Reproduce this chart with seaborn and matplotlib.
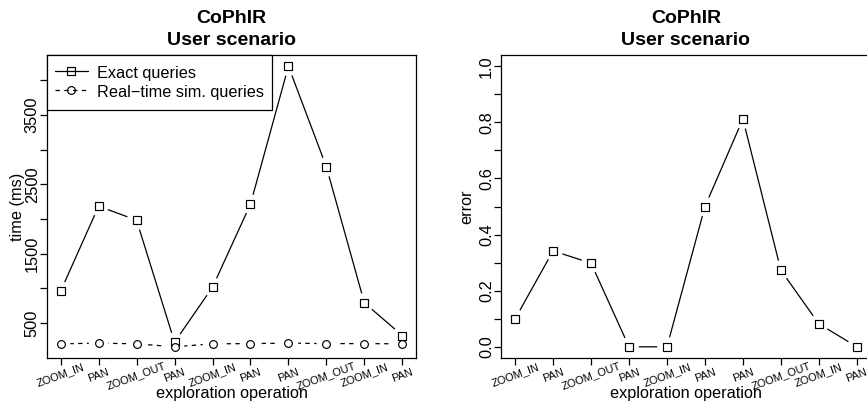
import matplotlib
matplotlib.use("Agg")
import matplotlib.pyplot as plt
from matplotlib.lines import Line2D
import seaborn as sns
import pandas as pd

# exploration sequence
operations = ["ZOOM_IN", "PAN", "ZOOM_OUT", "PAN", "ZOOM_IN",
              "PAN", "PAN", "ZOOM_OUT", "ZOOM_IN", "PAN"]
steps = list(range(1, len(operations) + 1))

# left panel: query times (ms)
exact_ms = [957, 2183, 1981, 221, 1014, 2212, 4202, 2750, 788, 317]
realtime_ms = [197, 207, 197, 154, 197, 200, 207, 200, 200, 197]
time_ticks = [500, 1000, 1500, 2000, 2500, 3000, 3500, 4000]

# right panel: error of the real-time answers
error = [0.10, 0.342, 0.298, 0.0, 0.0, 0.50, 0.812, 0.273, 0.082, 0.0]
error_ticks = [0.0, 0.1, 0.2, 0.3, 0.4, 0.5, 0.6, 0.7, 0.8, 0.9, 1.0]

sns.set_style("ticks")
plt.rcParams["font.family"] = ["Liberation Sans", "DejaVu Sans"]
plt.rcParams["axes.edgecolor"] = "black"
plt.rcParams["axes.linewidth"] = 0.9
plt.rcParams["text.color"] = "black"
plt.rcParams["axes.labelcolor"] = "black"
plt.rcParams["xtick.color"] = "black"
plt.rcParams["ytick.color"] = "black"

LW = 0.9
DASH = (0, (3.5, 3.5))


def draw_line(ax, x, y, dashed=False):
    d = pd.DataFrame({"x": x, "y": y})
    sns.lineplot(data=d, x="x", y="y", ax=ax, color="black", lw=LW,
                 linestyle=DASH if dashed else "-", errorbar=None, zorder=2)


def draw_mask(ax, x, y):
    # white disc under each point -> R style type="b" gaps
    sns.scatterplot(x=x, y=y, ax=ax, marker="o", s=200, color="white",
                    edgecolor="none", linewidth=0, zorder=2.2, legend=False)


def draw_points(ax, x, y, marker, size):
    sns.scatterplot(x=x, y=y, ax=ax, marker=marker, s=size, color="white",
                    edgecolor="black", linewidth=0.85, zorder=4, legend=False)


def style_axes(ax, yticks, ylabels, ylabel, ylim):
    ax.set_xlim(0.64, 10.36)
    ax.set_ylim(*ylim)
    ax.set_xticks(steps)
    ax.set_xticklabels(operations, fontsize=7.9, rotation=20,
                       ha="center", va="center", rotation_mode="anchor")
    ax.set_yticks(yticks)
    ax.set_yticklabels(ylabels, fontsize=11.8, rotation=90, va="center")
    ax.tick_params(axis="both", direction="out", length=5.3, width=LW,
                   color="black", labelcolor="black")
    ax.tick_params(axis="x", pad=7.2)
    ax.tick_params(axis="y", pad=0)
    for s in ax.spines.values():
        s.set_visible(True)
        s.set_linewidth(LW)
        s.set_color("black")
    ax.set_title("CoPhIR\nUser scenario", fontweight="bold", fontsize=14,
                 linespacing=1.38, pad=7, color="black")
    ax.set_xlabel("exploration operation", fontsize=11.7)
    ax.xaxis.set_label_coords(0.5, -0.1155)
    ax.xaxis.label.set_va("center")
    ax.set_ylabel(ylabel, fontsize=11.7)
    ax.yaxis.label.set_va("center")
    ax.grid(False)


fig = plt.figure(figsize=(8.67, 4.05), dpi=100)
ax1 = fig.add_axes([0.0542, 0.1160, 0.4256, 0.7481])
ax2 = fig.add_axes([0.5784, 0.1160, 0.4256, 0.7481])

# left: times
draw_line(ax1, steps, exact_ms)
draw_line(ax1, steps, realtime_ms, dashed=True)
draw_mask(ax1, steps, exact_ms)
draw_mask(ax1, steps, realtime_ms)
draw_points(ax1, steps, exact_ms, "s", 36)
draw_points(ax1, steps, realtime_ms, "o", 31)

lo = min(min(exact_ms), min(realtime_ms))
hi = max(max(exact_ms), max(realtime_ms))
pad = 0.04 * (hi - lo)
time_labels = [str(t) if (t // 500) % 2 == 1 else "" for t in time_ticks]
style_axes(ax1, time_ticks, time_labels, "time (ms)", (lo - pad, hi + pad))
ax1.yaxis.set_label_coords(-0.079, 0.5)

handles = [
    Line2D([], [], color="black", lw=LW, marker="s", markersize=6,
           mfc="none", mec="black", mew=0.85),
    Line2D([], [], color="black", lw=LW, linestyle=DASH, marker="o",
           markersize=5.6, mfc="none", mec="black", mew=0.85),
]
leg = ax1.legend(handles, ["Exact queries", "Real\u2212time sim. queries"],
                 loc="upper left", borderaxespad=0, fontsize=11.7,
                 fancybox=False, framealpha=1, edgecolor="black",
                 borderpad=0.5, handlelength=2.0, handleheight=1.45,
                 handletextpad=0.55, labelspacing=0.0)
leg.get_frame().set_linewidth(LW)
leg.set_zorder(5)

# right: error
draw_line(ax2, steps, error)
draw_mask(ax2, steps, error)
draw_points(ax2, steps, error, "s", 36)
error_labels = [f"{t:.1f}" if i % 2 == 0 else "" for i, t in enumerate(error_ticks)]
style_axes(ax2, error_ticks, error_labels, "error", (-0.04, 1.04))
ax2.yaxis.set_label_coords(-0.093, 0.5)

fig.savefig("out.png", dpi=100)
